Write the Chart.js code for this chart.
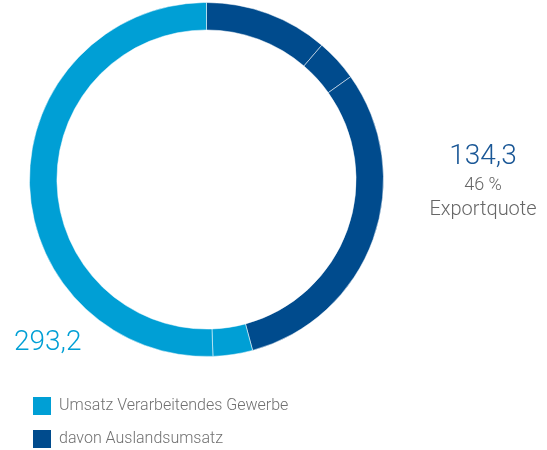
<!DOCTYPE html>
<html>
<head>
<meta charset="utf-8">
<script src="https://cdn.jsdelivr.net/npm/chart.js@4.4.0/dist/chart.umd.min.js"></script>
<style>
  body { margin: 0; background: #fff; font-family: Roboto, Lato, sans-serif; }
  #wrap { position: relative; width: 547px; height: 450px; }
  .lbl { position: absolute; white-space: nowrap; font-weight: 300; }
  #total { left: 14px; top: 324px; font-size: 28px; color: #009fd5; }
  #quote { left: 420px; top: 137px; width: 126px; text-align: center; color: #666; }
  #quote .big { font-size: 28px; color: #1a5796; line-height: 36px; }
  #quote .pct { font-size: 18px; line-height: 22px; }
  #quote .txt { font-size: 20px; line-height: 26px; }
  .leg { position: absolute; left: 33px; font-size: 16px; color: #707070; font-weight: 300; }
  .leg span { display: inline-block; width: 18px; height: 18px; vertical-align: middle; margin-right: 8px; }
</style>
</head>
<body>
<div id="wrap">
  <canvas id="myChart" width="547" height="450"></canvas>
  <div class="lbl" id="total"></div>
  <div class="lbl" id="quote"><div class="big"></div><div class="pct"></div><div class="txt"></div></div>
  <div class="leg" id="leg0" style="top:395px"><span></span><b style="font-weight:300"></b></div>
  <div class="leg" id="leg1" style="top:428px"><span></span><b style="font-weight:300"></b></div>
</div>
<script>
// Umsatz in Mrd. Euro, Segmente im Uhrzeigersinn ab 12 Uhr
const segments = [33.1, 11.3, 89.9, 10.6, 148.3];
const segmentType = [1, 1, 1, 0, 0]; // 1 = Auslandsumsatz, 0 = Inland
const legendLabels = ["Umsatz Verarbeitendes Gewerbe", "davon Auslandsumsatz"];
const totalLabel = "293,2";
const exportLabel = "134,3";
const exportPct = "46 %";
const exportText = "Exportquote";

const colors = ["#009fd5", "#004b8d"];

document.getElementById("total").textContent = totalLabel;
const q = document.getElementById("quote");
q.querySelector(".big").textContent = exportLabel;
q.querySelector(".pct").textContent = exportPct;
q.querySelector(".txt").textContent = exportText;
legendLabels.forEach((l, i) => {
  const el = document.getElementById("leg" + i);
  el.querySelector("span").style.background = colors[i];
  el.querySelector("b").textContent = l;
});

const ctx = document.getElementById("myChart");
new Chart(ctx, {
  type: "doughnut",
  data: {
    labels: segmentType.map(t => legendLabels[t]),
    datasets: [{
      data: segments,
      backgroundColor: segmentType.map(t => colors[t]),
      borderColor: "rgba(255,255,255,0.5)",
      borderWidth: 1
    }]
  },
  options: {
    responsive: false,
    animation: false,
    cutout: "84.5%",
    layout: { padding: { left: 29, top: 2, right: 163, bottom: 93 } },
    plugins: { legend: { display: false }, tooltip: { enabled: false } }
  }
});
</script>
</body>
</html>
